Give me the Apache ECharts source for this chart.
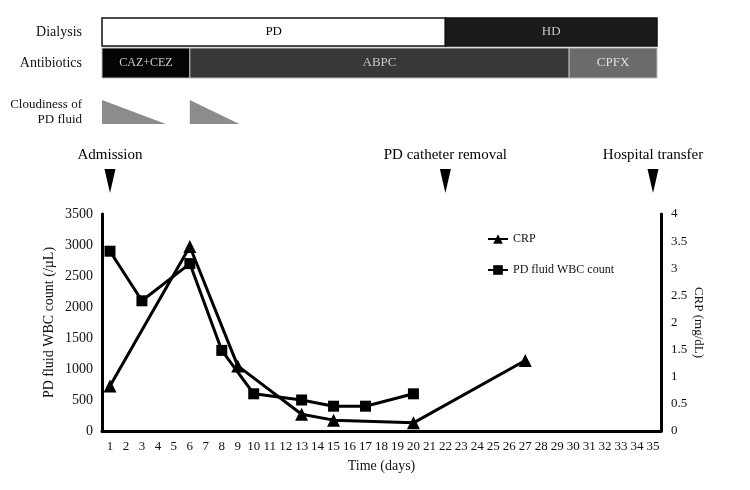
<!DOCTYPE html>
<html>
<head>
<meta charset="utf-8">
<script src="https://cdn.jsdelivr.net/npm/echarts@6/dist/echarts.min.js"></script>
<style>
    html, body { margin: 0; padding: 0; background: #fff; }
    #chart { width: 750px; height: 490px; }
</style>
</head>
<body>
<div id="chart"></div>
<script>
// x axis days
const days = Array.from({ length: 35 }, (_, i) => String(i + 1))
// PD fluid WBC count (/uL)
const wbcDays = [1, 3, 6, 8, 10, 13, 15, 17, 20]
const wbcValues = [2900, 2100, 2700, 1300, 600, 500, 400, 400, 600]
// CRP (mg/dL)
const crpDays = [1, 6, 9, 13, 15, 20, 27]
const crpValues = [0.83, 3.4, 1.2, 0.31, 0.2, 0.15, 1.3]
// timeline rows: [label, start day, end day]
const dialysis = [['PD', 0.5, 22], ['HD', 22, 35.25]]
const antibiotics = [['CAZ+CEZ', 0.5, 6], ['ABPC', 6, 29.75], ['CPFX', 29.75, 35.25]]
const cloudiness = [[0.5, 4.5], [6, 9.1]]
const events = [['Admission', 1], ['PD catheter removal', 22], ['Hospital transfer', 35]]

const serif = 'Liberation Serif'
const fills = { PD: '#ffffff', HD: '#1a1a1a', 'CAZ+CEZ': '#050505', ABPC: '#383838', CPFX: '#6b6b6b' }
const textFills = { PD: '#000', HD: '#c8c8c8', 'CAZ+CEZ': '#d0d0d0', ABPC: '#c8c8c8', CPFX: '#e0e0e0' }
// row bands in the top layer (px from top)
const bands = [[18, 46], [48, 78]]

const barItems = []
dialysis.forEach(d => barItems.push([d[1], d[2], 0, d[0]]))
antibiotics.forEach(d => barItems.push([d[1], d[2], 1, d[0]]))

const renderBar = (params, api) => {
    const row = api.value(2)
    const name = barItems[params.dataIndex][3]
    const p0 = api.coord([api.value(0), bands[row][0]])
    const p1 = api.coord([api.value(1), bands[row][1]])
    return {
        type: 'group',
        children: [{
            type: 'rect',
            shape: { x: p0[0], y: p0[1], width: p1[0] - p0[0], height: p1[1] - p0[1] },
            style: { fill: fills[name], stroke: row === 0 ? '#111' : '#bbb', lineWidth: row === 0 ? 1.5 : 1 }
        }, {
            type: 'text',
            style: {
                text: name, x: (p0[0] + p1[0]) / 2, y: (p0[1] + p1[1]) / 2,
                align: 'center', verticalAlign: 'middle',
                fontFamily: serif, fontSize: name === 'CAZ+CEZ' ? 12 : 13, fill: textFills[name]
            }
        }]
    }
}

const renderCloud = (params, api) => {
    const a = api.coord([api.value(0), 100])
    const b = api.coord([api.value(1), 124])
    return {
        type: 'polygon',
        shape: { points: [[a[0], a[1]], [a[0], b[1]], [b[0], b[1]]] },
        style: { fill: '#8c8c8c' }
    }
}

const chart = echarts.init(document.getElementById('chart'))
const option = {
    animation: false,
    textStyle: { fontFamily: serif },
    grid: [
        { left: 102, right: 89, top: 214, bottom: 59 },
        { left: 102, right: 89, top: 0, height: 200 }
    ],
    legend: {
        orient: 'vertical',
        left: 482,
        top: 228,
        itemGap: 19,
        itemWidth: 20,
        itemHeight: 12,
        textStyle: { fontFamily: serif, fontSize: 12, color: '#111' },
        data: ['CRP', 'PD fluid WBC count']
    },
    xAxis: [{
        type: 'category',
        gridIndex: 0,
        data: days,
        name: 'Time (days)',
        nameLocation: 'middle',
        nameGap: 28,
        nameMoveOverlap: false,
        nameTextStyle: { fontFamily: serif, fontSize: 14, color: '#111' },
        axisLine: { lineStyle: { color: '#000', width: 3 } },
        axisTick: { show: false },
        axisLabel: { interval: 0, margin: 9, fontFamily: serif, fontSize: 13, color: '#111' }
    }, {
        type: 'value',
        gridIndex: 1,
        min: 0.5,
        max: 35.5,
        show: false
    }],
    yAxis: [{
        type: 'value',
        gridIndex: 0,
        min: 0,
        max: 3500,
        interval: 500,
        name: 'PD fluid WBC count (/µL)',
        nameLocation: 'middle',
        nameGap: 46,
        nameMoveOverlap: false,
        nameTextStyle: { fontFamily: serif, fontSize: 14, color: '#111' },
        axisLine: { show: true, lineStyle: { color: '#000', width: 3 } },
        axisTick: { show: false },
        splitLine: { show: false },
        axisLabel: { margin: 9, fontFamily: serif, fontSize: 14, color: '#111', formatter: v => String(v) }
    }, {
        type: 'value',
        gridIndex: 0,
        position: 'right',
        min: 0,
        max: 4,
        interval: 0.5,
        name: 'CRP (mg/dL)',
        nameLocation: 'middle',
        nameGap: 31,
        nameRotate: -90,
        nameMoveOverlap: false,
        nameTextStyle: { fontFamily: serif, fontSize: 13, color: '#111' },
        axisLine: { show: true, lineStyle: { color: '#000', width: 3 } },
        axisTick: { show: false },
        splitLine: { show: false },
        axisLabel: { margin: 10, fontFamily: serif, fontSize: 13, color: '#111', formatter: v => String(v) }
    }, {
        type: 'value',
        gridIndex: 1,
        min: 0,
        max: 200,
        inverse: true,
        show: false
    }],
    graphic: [
        { type: 'text', x: 82, y: 32, style: { text: 'Dialysis', fontFamily: serif, fontSize: 14, fill: '#111', align: 'right', verticalAlign: 'middle' } },
        { type: 'text', x: 82, y: 63, style: { text: 'Antibiotics', fontFamily: serif, fontSize: 14, fill: '#111', align: 'right', verticalAlign: 'middle' } },
        { type: 'text', x: 82, y: 112, style: { text: 'Cloudiness of\nPD fluid', fontFamily: serif, fontSize: 13, lineHeight: 15, fill: '#111', align: 'right', verticalAlign: 'middle' } }
    ],
    series: [
        {
            name: 'CRP',
            type: 'line',
            yAxisIndex: 1,
            data: crpDays.map((d, i) => [String(d), crpValues[i]]),
            symbol: 'triangle',
            symbolSize: 13,
            lineStyle: { color: '#000', width: 3 },
            itemStyle: { color: '#000' }
        },
        {
            name: 'PD fluid WBC count',
            type: 'line',
            yAxisIndex: 0,
            data: wbcDays.map((d, i) => [String(d), wbcValues[i]]),
            symbol: 'rect',
            symbolSize: 11,
            lineStyle: { color: '#000', width: 3 },
            itemStyle: { color: '#000' }
        },
        {
            type: 'custom',
            xAxisIndex: 1,
            yAxisIndex: 2,
            renderItem: renderBar,
            data: barItems.map(b => [b[0], b[1], b[2]]),
            silent: true
        },
        {
            type: 'custom',
            xAxisIndex: 1,
            yAxisIndex: 2,
            renderItem: renderCloud,
            data: cloudiness,
            silent: true
        },
        {
            type: 'scatter',
            xAxisIndex: 1,
            yAxisIndex: 2,
            symbol: 'triangle',
            symbolRotate: 180,
            symbolSize: [11, 24],
            itemStyle: { color: '#000', opacity: 1 },
            label: {
                show: true,
                position: 'top',
                distance: 6,
                formatter: p => p.name,
                fontFamily: serif,
                fontSize: 15,
                color: '#000'
            },
            data: events.map(e => ({ name: e[0], value: [e[1], 181] })),
            silent: true
        }
    ]
}
chart.setOption(option)
</script>
</body>
</html>
